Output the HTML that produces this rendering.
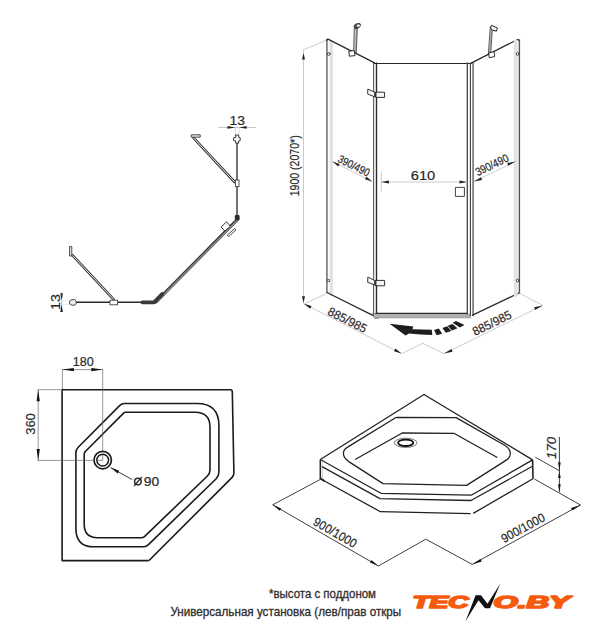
<!DOCTYPE html>
<html><head><meta charset="utf-8"><style>
html,body{margin:0;padding:0;background:#fff;}
body{width:603px;height:640px;overflow:hidden;}
svg{display:block;}
text{font-family:"Liberation Sans",sans-serif;fill:#2a2a2a;stroke:#2a2a2a;stroke-width:0.2;}
</style></head><body>
<svg width="603" height="640" viewBox="0 0 603 640">
<rect width="603" height="640" fill="#fff"/>

<!-- ============ CABIN (top right) ============ -->
<g id="cabin" fill="none" stroke-linecap="round" stroke-linejoin="round">
 <!-- left panel -->
 <line x1="331.3" y1="42" x2="331.3" y2="294.5" stroke="#e3e3e3" stroke-width="3.6"/>
 <line x1="326.9" y1="40" x2="326.9" y2="292.5" stroke="#6a6a6a" stroke-width="1.5"/>
 <path d="M326.6,40.2 Q327.6,38.6 329,39.6 L374.6,62.9" stroke="#2a2a2a" stroke-width="1.3"/>
 <line x1="327" y1="292.5" x2="372.8" y2="315.3" stroke="#2a2a2a" stroke-width="1.3"/>
 <path d="M373,313.6 L379,313.6 L380.4,316.4 L378.6,318.2 L375,318.2 Z" stroke="#555" stroke-width="0.8" fill="#d8d8d8"/>
 <circle cx="328.7" cy="53.9" r="1.4" stroke="#333" stroke-width="0.9" fill="#fff"/>
 <rect x="327.6" y="279.6" width="2" height="2" stroke="#444" stroke-width="0.8" fill="#fff"/>
 <!-- door -->
 <line x1="373.6" y1="63" x2="373.6" y2="316" stroke="#666" stroke-width="1.2"/>
 <line x1="376.5" y1="63" x2="376.5" y2="313" stroke="#2a2a2a" stroke-width="1.4"/>
 <line x1="374" y1="63.5" x2="471" y2="63.5" stroke="#2a2a2a" stroke-width="1.2"/>
 <rect x="374" y="313.6" width="96" height="4.3" fill="#b0b0b0" stroke="none"/>
 <line x1="376" y1="313.3" x2="467" y2="313.3" stroke="#2a2a2a" stroke-width="1.3"/>
 <line x1="374" y1="317.8" x2="471" y2="317.8" stroke="#999" stroke-width="0.8"/>
 <line x1="467.3" y1="63" x2="467.3" y2="314" stroke="#444" stroke-width="1.3"/>
 <line x1="470.4" y1="63" x2="470.4" y2="316" stroke="#3a3a3a" stroke-width="1.1"/>
 <!-- right panel -->
 <line x1="473.1" y1="63" x2="473.1" y2="315.5" stroke="#666" stroke-width="1.5"/>
 <path d="M470.7,63.3 L516.6,40 Q518,39 518.9,40.4" stroke="#2a2a2a" stroke-width="1.3"/>
 <line x1="472.6" y1="315.2" x2="519" y2="293" stroke="#2a2a2a" stroke-width="1.3"/>
 <line x1="515.7" y1="41.5" x2="515.7" y2="295" stroke="#e3e3e3" stroke-width="3.8"/>
 <line x1="519.4" y1="40" x2="519.4" y2="293" stroke="#555" stroke-width="1.4"/>
 <circle cx="517.6" cy="53.9" r="1.4" stroke="#333" stroke-width="0.9" fill="#fff"/>
 <circle cx="517.7" cy="280.5" r="1.4" stroke="#333" stroke-width="0.9" fill="#fff"/>
 <!-- hinges -->
 <path d="M368.2,89.2 L375,92.4 L374.6,96.8 L368,94.2 Z" stroke="#333" stroke-width="1" fill="#f6f6f6"/>
 <rect x="376" y="92.2" width="8.6" height="5.2" stroke="#333" stroke-width="1" fill="#f6f6f6"/>
 <path d="M374.6,91.5 L376.4,92.6 L376.4,97.2 L374.4,96.6 Z" fill="#333"/>
 <path d="M368.2,277.2 L375,280.7 L374.6,284.9 L368,282.4 Z" stroke="#333" stroke-width="1" fill="#f6f6f6"/>
 <rect x="376" y="280.4" width="8.6" height="5.4" stroke="#333" stroke-width="1" fill="#f6f6f6"/>
 <path d="M374.6,280 L376.4,281 L376.4,286 L374.4,285.2 Z" fill="#333"/>
 <!-- handle -->
 <rect x="455.8" y="187.4" width="8.6" height="9" stroke="#444" stroke-width="1" fill="#fff"/>
 <!-- brackets -->
 <path d="M354.6,28.3 L357.3,28.3 L356.3,53 L354,52.4 Z" fill="#b5b5b5" stroke="#3a3a3a" stroke-width="0.8" stroke-linejoin="round"/>
 <path d="M354.2,25.8 Q355,23.6 357.2,23.8 L359.8,23.4 Q361,24.6 360,26.6 L357.6,28.4 Q355.4,28.8 354.2,27.4 Z" fill="#555" stroke="#2a2a2a" stroke-width="0.9"/>
 <ellipse cx="358.4" cy="25.6" rx="1.5" ry="1.2" fill="#fff" stroke="none"/>
 <path d="M349.2,51.2 L354.4,50.6 L355,55.6 L349.8,56.2 Z" stroke="#2a2a2a" stroke-width="1" fill="#fff"/>
 <path d="M490.6,26.9 L492.4,28.4 L490.9,51 L488.6,53.5 Z" fill="#b5b5b5" stroke="#3a3a3a" stroke-width="0.8" stroke-linejoin="round"/>
 <path d="M490.6,27.6 L491.6,25.4 L497.4,28 L496.4,31.2 L492.6,30.2 Z" stroke="#222" stroke-width="1" fill="#fff" stroke-linejoin="round"/>
 <path d="M489,53 L494.1,51.5 L494.7,56.5 L489.6,57.7 Z" stroke="#2a2a2a" stroke-width="1" fill="#fff"/>
 <!-- dimensions (light) -->
 <g stroke="#c6c6c6" stroke-width="0.9">
 <line x1="303.5" y1="50" x2="303.5" y2="303"/>
 <line x1="303.3" y1="49.8" x2="325.7" y2="40.6"/>
 <line x1="305" y1="303.4" x2="325.8" y2="293.8"/>
 <line x1="303.9" y1="303.7" x2="401.6" y2="353.6"/>
 <line x1="401.6" y1="353.6" x2="422.8" y2="343.3"/>
 <line x1="422.8" y1="343.3" x2="444" y2="353.6"/>
 <line x1="444" y1="353.6" x2="542.7" y2="305.4"/>
 <line x1="520" y1="293.5" x2="542.7" y2="305.4"/>
 <line x1="332.4" y1="161.6" x2="372.2" y2="181.5"/>
 <line x1="473.9" y1="181.5" x2="515.4" y2="161.6"/>
 <line x1="381.4" y1="182" x2="467" y2="182"/>
 <line x1="381.4" y1="172" x2="381.4" y2="191"/>
 </g>
 <g fill="#222" stroke="none">
 <path d="M303.5,53 L302,59.5 L305,59.5 Z"/>
 <path d="M303.5,302.7 L302,296.2 L305,296.2 Z"/>
 <path d="M303.9,303.7 l7.6,2.4 l-1.4,2.6 z"/>
 <path d="M401.6,353.6 l-7.6,-2.4 l1.4,-2.6 z"/>
 <path d="M444,353.6 l7.6,-4.5 l0.9,2.7 z"/>
 <path d="M542.7,305.4 l-7.6,4.5 l-0.9,-2.7 z"/>
 <path d="M332.4,161.6 l7.2,2.3 l-1.3,2.6 z"/>
 <path d="M372.2,181.5 l-7.2,-2.3 l1.3,-2.6 z"/>
 <path d="M473.9,181.5 l7.2,-4.2 l0.9,2.7 z"/>
 <path d="M515.4,161.6 l-7.2,4.2 l-0.9,-2.7 z"/>
 <path d="M381.4,182 l7.5,-1.4 l0,2.8 z"/>
 <path d="M467,182 l-7.5,-1.4 l0,2.8 z"/>
 </g>
 <!-- rotation arrow -->
 <path d="M389.6,323.8 L413.3,326.6 L412.4,329.3 Q422,329.3 431.8,329.7 L432.3,334.9 Q420,334.4 409,333.4 L405.5,335.4 Z" fill="#1e1e1e"/>
 <path d="M434.1,330.1 L438.8,328.6 L442.2,333.7 L436.6,335.2 Z" fill="#1e1e1e"/>
 <path d="M442.4,328.1 L447.3,326.3 L451.2,330.9 L445.8,332.8 Z" fill="#1e1e1e"/>
 <path d="M447.7,325.8 L452.5,324 L457.5,328.3 L451.9,330.5 Z" fill="#1e1e1e"/>
 <path d="M452.7,322.8 L456,321 L464.5,325 L459.8,327.5 Z" fill="#1e1e1e"/>
</g>
<g id="cabintext">
 <text x="294.5" y="165.8" font-size="12.2" text-anchor="middle" transform="rotate(-90 294.5 165.8)" dy="4.2" textLength="61" lengthAdjust="spacingAndGlyphs">1900 (2070*)</text>
 <text x="353.6" y="166.4" font-size="11.2" text-anchor="middle" transform="rotate(26.6 353.6 166.4)" dy="3.2" textLength="34.2" lengthAdjust="spacingAndGlyphs">390/490</text>
 <text x="492.2" y="165.6" font-size="11.4" text-anchor="middle" transform="rotate(-26 492.2 165.6)" dy="3.2" textLength="35.5" lengthAdjust="spacingAndGlyphs">390/490</text>
 <text x="423" y="179.8" font-size="13.2" text-anchor="middle" textLength="24.5" lengthAdjust="spacingAndGlyphs">610</text>
 <text x="347.3" y="320.1" font-size="12.3" text-anchor="middle" transform="rotate(27 347.3 320.1)" dy="4.1" textLength="42" lengthAdjust="spacingAndGlyphs">885/985</text>
 <text x="492" y="323.2" font-size="12.3" text-anchor="middle" transform="rotate(-26 492 323.2)" dy="4.1" textLength="42" lengthAdjust="spacingAndGlyphs">885/985</text>
</g>

<!-- ============ PROFILES (top left) ============ -->
<g id="profiles" fill="none" stroke-linecap="round">
 <!-- top 13 dim -->
 <line x1="218.5" y1="127.5" x2="255.6" y2="127.5" stroke="#bbb" stroke-width="0.8"/>
 <path d="M235.3,127.4 l-7.8,-1.4 l0,2.8 z" fill="#222"/>
 <path d="M239.1,127.4 l7.5,-1.4 l0,2.8 z" fill="#222"/>
 <line x1="235.4" y1="127.5" x2="235.4" y2="134.5" stroke="#bbb" stroke-width="0.7" stroke-dasharray="1.5 1"/>
 <line x1="238.9" y1="127.5" x2="238.9" y2="134.5" stroke="#bbb" stroke-width="0.7" stroke-dasharray="1.5 1"/>
 <!-- vertical profile -->
 <line x1="237" y1="141" x2="237" y2="216" stroke="#3a3a3a" stroke-width="1.6"/>
 <line x1="237" y1="141" x2="237" y2="216" stroke="#bbb" stroke-width="0.4"/>
 <path d="M235.7,135 L238.7,135 L238.7,137.3 L240.2,137.8 L240.2,140.6 L238.7,141 L238.7,143.2 L235.7,143.2 L235.7,141 L233.6,140.6 L233.6,137.8 L235.7,137.3 Z" stroke="#333" stroke-width="1" fill="#fafafa" stroke-linejoin="round"/>
 <!-- top diagonal -->
 <line x1="193.5" y1="137.8" x2="234.6" y2="182" stroke="#333" stroke-width="2.6"/>
 <line x1="193.5" y1="137.8" x2="234.6" y2="182" stroke="#f2f2f2" stroke-width="1"/>
 <path d="M191.6,134.8 L200.2,134.8 L200.2,137.2 L191.6,137.2 Z" stroke="#333" stroke-width="0.9" fill="#eee"/>
 <rect x="235.4" y="180" width="3.6" height="6.6" stroke="#444" stroke-width="0.9" fill="#fff"/>
 <!-- long diagonal -->
 <line x1="237.8" y1="219.2" x2="156" y2="301.8" stroke="#3c3c3c" stroke-width="3.2"/>
 <line x1="237.8" y1="219.8" x2="156.6" y2="301.8" stroke="#a0a0a0" stroke-width="1.1"/>
 <rect x="234.8" y="214.8" width="4.8" height="5.4" rx="1.6" fill="#2e2e2e"/>
 <path d="M221.4,226.8 L226.6,221.8 L230.4,226.2 L225.2,230.8 Z" stroke="#2e2e2e" stroke-width="1" fill="#fff"/>
 <path d="M227.6,234.8 L234.7,228.5 L236,229.8 L228.9,236.4 Z" stroke="#2e2e2e" stroke-width="0.9" fill="#fff"/>
 <line x1="155" y1="301.4" x2="162.4" y2="293.9" stroke="#3a3a3a" stroke-width="3.8"/>
 <circle cx="154.4" cy="304" r="0.7" fill="#fff"/>
 <!-- bottom horizontal -->
 <line x1="75" y1="302.3" x2="143.5" y2="302.3" stroke="#2a2a2a" stroke-width="1.6"/>
 <line x1="142.3" y1="302.4" x2="154" y2="302.4" stroke="#3a3a3a" stroke-width="3.6"/>
 <path d="M70,300.6 L72,299.6 L74.6,299.6 L76.2,301 L76.2,303.8 L74.6,305.2 L72,305.2 L70,304.2 Z" stroke="#333" stroke-width="0.9" fill="#eee"/>
 <!-- bottom diagonal -->
 <line x1="72.6" y1="255.4" x2="113.6" y2="299.3" stroke="#333" stroke-width="2.6"/>
 <line x1="72.6" y1="255.4" x2="113.6" y2="299.3" stroke="#f2f2f2" stroke-width="1"/>
 <path d="M69.6,247 L69.6,256 L71.8,256 L71.8,247 Z" stroke="#333" stroke-width="0.9" fill="#eee"/>
 <rect x="110" y="300.2" width="7.6" height="4.6" stroke="#444" stroke-width="0.9" fill="#fff"/>
 <!-- left 13 dim -->
 <line x1="61.6" y1="292.8" x2="61.6" y2="311.2" stroke="#bbb" stroke-width="0.8"/>
 <path d="M61.6,300.6 l-1.3,-7.3 l2.6,0 z" fill="#222"/>
 <path d="M61.6,304.6 l-1.3,7.3 l2.6,0 z" fill="#222"/>
 <line x1="61.6" y1="300.6" x2="70" y2="300.6" stroke="#ddd" stroke-width="0.6" stroke-dasharray="1.5 1"/>
 <line x1="61.6" y1="304.6" x2="70" y2="304.6" stroke="#ddd" stroke-width="0.6" stroke-dasharray="1.5 1"/>
</g>
<g id="proftext">
 <text x="237.3" y="124.5" font-size="13.4" text-anchor="middle" textLength="15.5" lengthAdjust="spacingAndGlyphs">13</text>
 <text x="55" y="302" font-size="13.4" text-anchor="middle" transform="rotate(-90 55 302)" dy="4.6" textLength="16" lengthAdjust="spacingAndGlyphs">13</text>
</g>

<!-- ============ TRAY TOP VIEW (bottom left) ============ -->
<g id="tray" fill="none" stroke="#1a1a1a" stroke-width="1.6" stroke-linejoin="round">
 <path d="M62.1,389.7 L230.3,389.7 Q232.2,389.7 232.3,391.8 L233.9,472.5 Q234,475.5 231.9,477.6 L149.8,559.8 Q149,560.6 147.8,560.6 L62.1,560.6 Z"/>
 <path d="M124.2,403.5 L197,403.5 Q218.9,403.5 218.9,425.6 L218.9,472 Q218.9,476 216.2,478.7 L148.2,544.9 Q146.2,546.8 143.8,546.8 L94,546.8 Q75.9,546.8 75.9,528.4 L75.9,453 Q75.9,449.6 78.2,447.3 L119.6,405.6 Q121.8,403.5 124.2,403.5 Z"/>
 <path d="M125.4,412.2 L195,412.2 Q210,412.2 210,427 L210,470 Q210,473.5 207.4,476 L145.2,535.9 Q143.8,537.7 141.6,537.7 L97.5,537.7 Q84.2,537.7 84.2,524.3 L84.2,454.6 Q84.2,452.5 85.6,451.2 L123.6,413.1 Q124.4,412.2 125.4,412.2 Z"/>
 <!-- drain -->
 <circle cx="102.7" cy="460.1" r="8.7" stroke-width="1.7"/>
 <circle cx="102.7" cy="460.1" r="5.9" stroke-width="1.5"/>
</g>
<g id="traydim" fill="none" stroke="#6a6a6a" stroke-width="0.7">
 <line x1="62.4" y1="369.6" x2="102.7" y2="369.6"/>
 <line x1="62.4" y1="369" x2="62.4" y2="389"/>
 <line x1="102.7" y1="369" x2="102.7" y2="451"/>
 <line x1="37.4" y1="389.7" x2="62" y2="389.7"/>
 <line x1="37.4" y1="460.4" x2="94" y2="460.4"/>
 <line x1="38.2" y1="389.6" x2="38.2" y2="460.4"/>
 <line x1="102.7" y1="455" x2="102.7" y2="460.4"/>
 <line x1="97" y1="460.4" x2="102.7" y2="460.4"/>
 <path d="M62.4,369.6 l11.4,-1.6 l0,3.2 z" fill="#111" stroke="none"/>
 <path d="M102.7,369.6 l-11.4,-1.6 l0,3.2 z" fill="#111" stroke="none"/>
 <path d="M38.2,389.8 l-1.6,11.4 l3.2,0 z" fill="#111" stroke="none"/>
 <path d="M38.2,460.4 l-1.6,-11.4 l3.2,0 z" fill="#111" stroke="none"/>
 <line x1="110.6" y1="467.6" x2="132.2" y2="479.6" stroke="#222" stroke-width="0.9"/>
 <path d="M110.6,467.6 l8.6,3.2 l-1.5,2.6 z" fill="#111" stroke="none"/>
</g>
<g id="traytext">
 <text x="83.3" y="366.2" font-size="13" text-anchor="middle" textLength="21" lengthAdjust="spacingAndGlyphs">180</text>
 <text x="30.5" y="424" font-size="13.4" text-anchor="middle" transform="rotate(-90 30.5 424)" dy="4.6" textLength="21.5" lengthAdjust="spacingAndGlyphs">360</text>
 <circle cx="137.9" cy="481.5" r="3.3" fill="none" stroke="#2a2a2a" stroke-width="1.5"/>
 <line x1="134" y1="486" x2="141.8" y2="477" stroke="#2a2a2a" stroke-width="1.2"/>
 <text x="143.7" y="485.5" font-size="12" textLength="15.4" lengthAdjust="spacingAndGlyphs">90</text>
</g>

<!-- ============ 3D TRAY (bottom right) ============ -->
<g id="tray3d" fill="none" stroke="#222" stroke-width="1.3" stroke-linejoin="round">
 <path d="M320.3,459.5 L424,394.5 L532.6,459.9"/>
 <path d="M320.3,459.5 L320.3,479.2" stroke-width="1.5"/>
 <path d="M322.2,462 L322.2,478" stroke="#bbb" stroke-width="0.8"/>
 <path d="M532.6,459.9 L533,478.5" stroke-width="1.6"/>
 <path d="M320.3,459.5 L381,493.3 L471.2,495.2 L532.6,459.9"/>
 <path d="M322,466.6 L380,498.6 L471,500.5 L532,466.5"/>
 <path d="M321.3,479.2 L380.4,511.7 L470.6,513.6"/>
 <path d="M473.2,513.4 L533.3,478.5"/>
 <path d="M320.5,478.6 L324.6,481" stroke-width="2"/>
 <path d="M397,417.4 L456.1,417.6 L504.6,445.2 C511,449 512.5,456 506.7,459.9 L466.6,485.4 L383,483.6 L348.8,461.6 C341.5,456.5 342,450 348,446.9 L393.5,419 Q395,417.4 397,417.4 Z"/>
 <path d="M355.1,459.5 L402.2,433 L453.9,433.3 L497.3,457.5"/>
 <ellipse cx="405.7" cy="442.8" rx="11.4" ry="4.6" stroke="#555" stroke-width="0.8"/>
 <ellipse cx="405.7" cy="442.8" rx="7.6" ry="3.2" stroke="#111" stroke-width="1.8"/>
</g>
<g id="tray3ddim" fill="none" stroke="#2a2a2a" stroke-width="0.9">
 <line x1="272.7" y1="504.8" x2="320.4" y2="479.4"/>
 <line x1="272.7" y1="504.8" x2="378.4" y2="566"/>
 <line x1="378.4" y1="566" x2="425.8" y2="539.2"/>
 <line x1="425.8" y1="539.2" x2="472.2" y2="564.4"/>
 <line x1="472.2" y1="564.4" x2="580.5" y2="505"/>
 <line x1="534.4" y1="479" x2="580.5" y2="505"/>
 <line x1="535.3" y1="457.2" x2="559.4" y2="470.8"/>
 <line x1="559.4" y1="436.9" x2="559.4" y2="492"/>
 <path d="M272.7,504.8 l8.4,3.6 l-1.3,2.4 z" fill="#111" stroke="none"/>
 <path d="M378.4,566 l-8.4,-3.6 l1.3,-2.4 z" fill="#111" stroke="none"/>
 <path d="M472.2,564.4 l8.2,-5.4 l1.3,2.4 z" fill="#111" stroke="none"/>
 <path d="M580.5,505 l-8.2,5.4 l-1.3,-2.4 z" fill="#111" stroke="none"/>
 <path d="M559.4,470.8 l-1.3,-8.6 l2.6,0 z" fill="#111" stroke="none"/>
 <path d="M559.4,471.6 l-1.3,6.4 l2.6,0 z" fill="#111" stroke="none"/>
 <path d="M559.4,492 l-1.3,-7.8 l2.6,0 z" fill="#111" stroke="none"/>
</g>
<g id="tray3dtext">
 <text x="335.2" y="532.6" font-size="12.4" text-anchor="middle" transform="rotate(30 335.2 532.6)" dy="4.2" textLength="48" lengthAdjust="spacingAndGlyphs">900/1000</text>
 <text x="523" y="528" font-size="12.4" text-anchor="middle" transform="rotate(-28.6 523 528)" dy="4.2" textLength="48" lengthAdjust="spacingAndGlyphs">900/1000</text>
 <text x="551.7" y="447.9" font-size="12.4" font-style="italic" text-anchor="middle" transform="rotate(-90 551.7 447.9)" dy="4.4" textLength="22" lengthAdjust="spacingAndGlyphs">170</text>
</g>

<!-- ============ NOTES ============ -->
<text x="269" y="597.7" font-size="11.9" style="stroke:#333;stroke-width:0.3" textLength="107" lengthAdjust="spacingAndGlyphs">*высота с поддоном</text>
<text x="170.4" y="615.6" font-size="11.9" style="stroke:#333;stroke-width:0.3" textLength="230.8" lengthAdjust="spacingAndGlyphs">Универсальная установка (лев/прав откры</text>

<!-- ============ LOGO ============ -->
<g id="logo" style="fill:#f65a0c;stroke:#f65a0c;stroke-width:1.8;stroke-linejoin:round">
 <text x="412.4" y="607.5" font-size="15.8" font-weight="bold" font-style="italic" style="fill:#f65a0c;stroke:#f65a0c;stroke-width:1.6;stroke-linejoin:round" textLength="56.2" lengthAdjust="spacingAndGlyphs">TEC</text>
 <text x="493.5" y="607.5" font-size="15.8" font-weight="bold" font-style="italic" style="fill:#f65a0c;stroke:#f65a0c;stroke-width:1.6;stroke-linejoin:round" textLength="76.4" lengthAdjust="spacingAndGlyphs">O.BY</text>
</g>
<path d="M465.4,621.5 L475.6,595.3 L481,595.3 L487.5,603.8 L500.2,583.7 L490,608.3 L485,608.3 L478.5,600.3 Z" fill="#111"/>
</svg>
</body></html>
